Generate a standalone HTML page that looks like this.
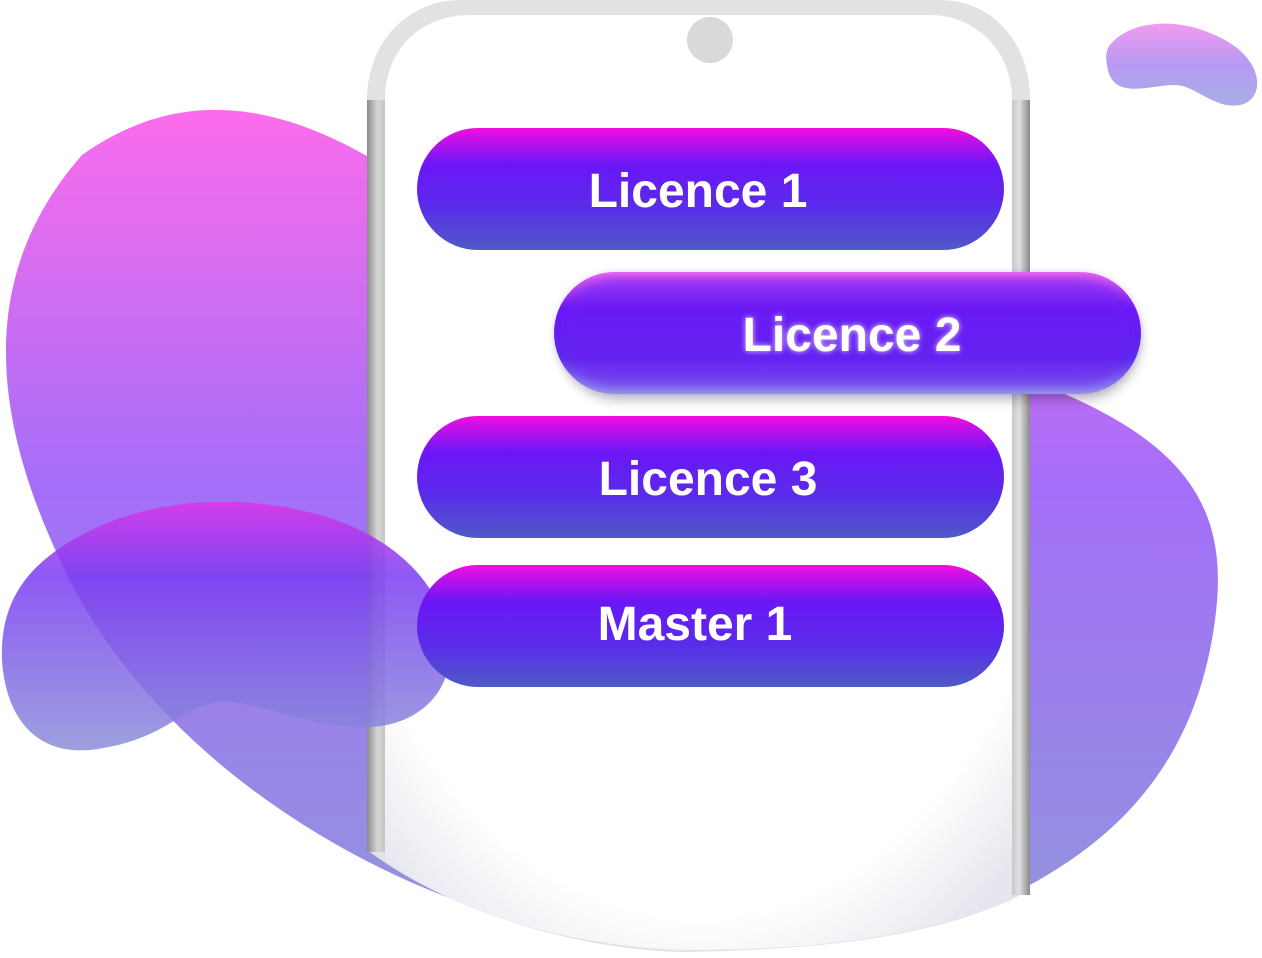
<!DOCTYPE html>
<html><head><meta charset="utf-8"><style>
html,body{margin:0;padding:0;background:#fff;width:1262px;height:958px;overflow:hidden}
svg{display:block}
text{font-family:"Liberation Sans",sans-serif;font-weight:bold;fill:#fff}
</style></head><body>
<svg width="1262" height="958" viewBox="0 0 1262 958" xmlns="http://www.w3.org/2000/svg">
<defs>
<linearGradient id="blob" x1="0" y1="0" x2="0" y2="1">
<stop offset="0" stop-color="#fb6cec"/><stop offset="0.45" stop-color="#a46ef8"/><stop offset="1" stop-color="#9096dc"/>
</linearGradient>
<linearGradient id="blob2" x1="0" y1="0" x2="0" y2="1">
<stop offset="0" stop-color="#d838e8" stop-opacity="0.9"/><stop offset="0.3" stop-color="#7a3cf2" stop-opacity="0.85"/><stop offset="1" stop-color="#8a90d8" stop-opacity="0.85"/>
</linearGradient>
<linearGradient id="small" x1="0" y1="0" x2="0" y2="1">
<stop offset="0" stop-color="#f29af0"/><stop offset="0.5" stop-color="#b69af2"/><stop offset="1" stop-color="#a8aee6"/>
</linearGradient>
<linearGradient id="btn" x1="0" y1="0" x2="0" y2="1">
<stop offset="0" stop-color="#f20ee0"/><stop offset="0.3" stop-color="#6a16f6"/><stop offset="0.65" stop-color="#5a2cea"/><stop offset="1" stop-color="#4f5ac6"/>
</linearGradient>
<linearGradient id="btn2" x1="0" y1="0" x2="0" y2="1">
<stop offset="0" stop-color="#f66cee"/><stop offset="0.3" stop-color="#6a16f6"/><stop offset="0.7" stop-color="#5a2cea"/><stop offset="1" stop-color="#9aa0e8"/>
</linearGradient>
<linearGradient id="sideL" x1="0" y1="0" x2="1" y2="0">
<stop offset="0" stop-color="#8a8a8a"/><stop offset="0.6" stop-color="#d8d8d8"/><stop offset="1" stop-color="#c4c4c4"/>
</linearGradient>
<linearGradient id="sideR" x1="0" y1="0" x2="1" y2="0">
<stop offset="0" stop-color="#c8c8c8"/><stop offset="0.4" stop-color="#e0e0e0"/><stop offset="1" stop-color="#8a8a8a"/>
</linearGradient>
<radialGradient id="bottomfade" cx="0.5" cy="0.35" r="0.75">
<stop offset="0.82" stop-color="#fff"/><stop offset="1" stop-color="#e6e6ee"/>
</radialGradient>
<filter id="glow" x="-20%" y="-40%" width="140%" height="180%"><feGaussianBlur stdDeviation="6"/></filter>
<filter id="tglow"><feGaussianBlur stdDeviation="3"/></filter>
</defs>
<!-- big blob -->
<path d="M82,155 C160,100 250,90 365,155 L1030,380 C1190,440 1230,510 1215,620 C1195,770 1110,850 990,905 C880,950 700,955 560,930 C380,895 150,760 60,560 C-20,390 -10,260 82,155 Z" fill="url(#blob)"/>
<!-- small blob -->
<path d="M1110,45 C1130,20 1180,15 1225,40 C1265,62 1265,100 1240,105 C1215,110 1195,85 1175,85 C1150,85 1115,100 1108,70 C1105,58 1106,50 1110,45 Z" fill="url(#small)"/>
<!-- phone -->
<path d="M367,100 C367,40 410,0 460,0 L940,0 C990,0 1030,40 1030,100 L1030,890 C930,945 780,950 680,952 C560,948 440,905 367,850 Z" fill="#e2e2e2"/>
<rect x="367" y="100" width="18" height="752" fill="url(#sideL)"/>
<rect x="1012" y="100" width="18" height="795" fill="url(#sideR)"/>
<path d="M385,100 C385,50 420,15 470,15 L930,15 C975,15 1012,50 1012,100 L1012,900 C900,945 780,950 680,950 C560,945 450,910 385,860 Z" fill="url(#bottomfade)"/>
<circle cx="710" cy="40" r="23" fill="#d9d9d9"/>
<!-- lower blob -->
<path d="M60,548 C130,500 230,490 320,515 C390,535 440,580 450,640 C455,690 420,725 370,727 C310,730 260,700 220,702 C180,705 170,740 90,750 C30,755 5,710 2,660 C0,610 20,575 60,548 Z" fill="url(#blob2)"/>
<!-- buttons -->
<rect x="417" y="128" width="587" height="122" rx="61" fill="url(#btn)"/>
<text x="698" y="207" font-size="48" text-anchor="middle">Licence 1</text>
<rect x="560" y="282" width="580" height="118" rx="59" fill="#000" opacity="0.25" filter="url(#glow)"/>
<rect x="554" y="272" width="587" height="122" rx="61" fill="url(#btn2)"/>
<rect x="560" y="278" width="575" height="110" rx="55" fill="#6a1cf4" opacity="0.6" filter="url(#glow)"/>
<text x="852" y="351" font-size="48" text-anchor="middle" filter="url(#tglow)" opacity="0.8">Licence 2</text>
<text x="852" y="351" font-size="48" text-anchor="middle">Licence 2</text>
<rect x="417" y="416" width="587" height="122" rx="61" fill="url(#btn)"/>
<text x="708" y="495" font-size="48" text-anchor="middle">Licence 3</text>
<rect x="417" y="565" width="587" height="122" rx="61" fill="url(#btn)"/>
<text x="695" y="640" font-size="48" text-anchor="middle">Master 1</text>
</svg>
</body></html>
